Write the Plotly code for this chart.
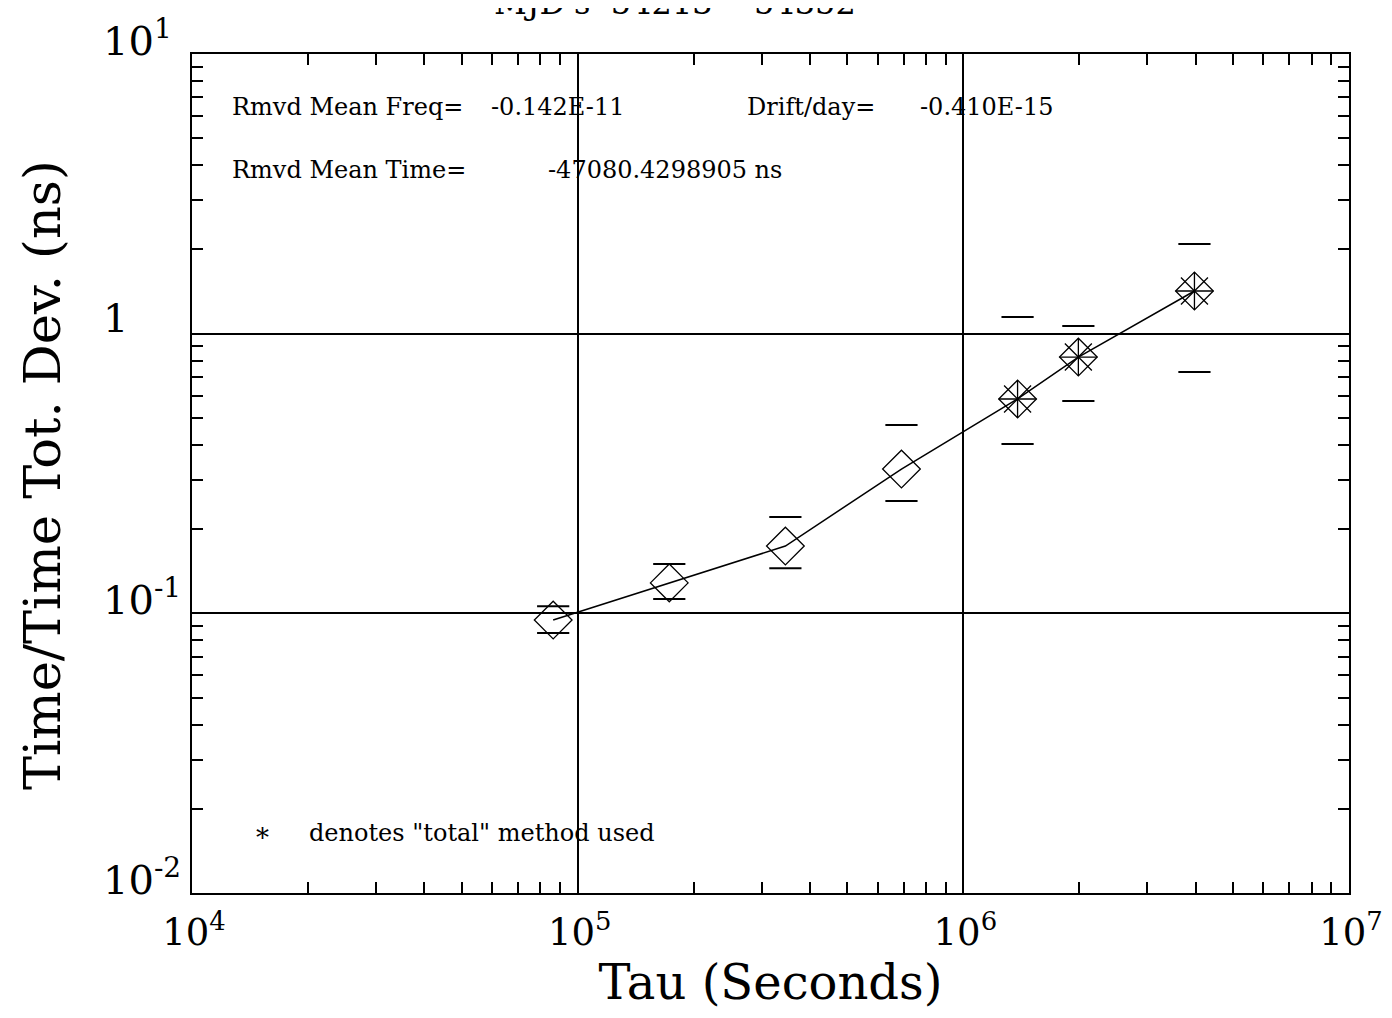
import math
import plotly.graph_objects as go

# ---- data ----
tau = [86400, 172800, 345600, 691200, 1382400, 1987200, 3974400]
tdev = [0.0946, 0.1285, 0.174, 0.328, 0.584, 0.825, 1.421]
tdev_hi = [0.106, 0.150, 0.221, 0.471, 1.148, 1.065, 2.094]
tdev_lo = [0.0851, 0.1125, 0.145, 0.252, 0.403, 0.574, 0.729]
total_used = [False, False, False, False, True, True, True]

x_tickvals = [1e4, 1e5, 1e6, 1e7]
x_ticktext = ["10<sup>4</sup>", "10<sup>5</sup>", "10<sup>6</sup>", "10<sup>7</sup>"]
y_tickvals = [10, 1, 0.1, 0.01]
y_ticktext = ["10<sup>1</sup>", "1", "10<sup>-1</sup>", "10<sup>-2</sup>"]
x_decades = [4, 5, 6]
y_decades = [-2, -1, 0]
minor_mult = [2, 3, 4, 5, 6, 7, 8, 9]

title_text = "MJD's  54213 -  54352"
x_title = "Tau (Seconds)"
y_title = "Time/Time Tot. Dev. (ns)"
info_line1 = ["Rmvd Mean Freq=", "-0.142E-11", "Drift/day=", "-0.410E-15"]
info_line2 = ["Rmvd Mean Time=", "-47080.4298905 ns"]
note_text = 'denotes "total" method used'

# ---- layout geometry (pixels, in reference-image coordinates) ----
OFF = 8  # page body margin
W, H = 1392 - 2 * OFF, 1018 - 2 * OFF
L, R, T, B = 192 - OFF, 1349 - OFF, 54 - OFF, 893 - OFF
PW, PH = R - L, B - T


def px_x(px):
    return (px - OFF - L) / PW


def px_y(py):
    return 1 - (py - OFF - T) / PH


FONT = "DejaVu Serif"
BLACK = "black"

fig = go.Figure()

# connecting line
fig.add_trace(go.Scatter(x=tau, y=tdev, mode="lines",
                         line=dict(color=BLACK, width=1.5), hoverinfo="skip"))

# diamonds for all points
fig.add_trace(go.Scatter(x=tau, y=tdev, mode="markers",
                         marker=dict(symbol="diamond-open", size=29,
                                     color=BLACK, line=dict(color=BLACK, width=1.3))))

# total-method overlay: X and + inside the diamond
tx = [t for t, f in zip(tau, total_used) if f]
ty = [v for v, f in zip(tdev, total_used) if f]
fig.add_trace(go.Scatter(x=tx, y=ty, mode="markers",
                         marker=dict(symbol="x-thin-open", size=27,
                                     color=BLACK, line=dict(color=BLACK, width=1.3))))
fig.add_trace(go.Scatter(x=tx, y=ty, mode="markers",
                         marker=dict(symbol="cross-thin-open", size=27,
                                     color=BLACK, line=dict(color=BLACK, width=1.3))))

# error bar end dashes
fig.add_trace(go.Scatter(x=tau + tau, y=tdev_hi + tdev_lo, mode="markers",
                         marker=dict(symbol="line-ew-open", size=23,
                                     color=BLACK, line=dict(color=BLACK, width=2))))


def axis_common(decades):
    return dict(
        type="log",
        showline=True, linecolor=BLACK, linewidth=2, mirror="allticks",
        showgrid=True, gridcolor=BLACK, gridwidth=2,
        ticks="inside", ticklen=11, tickwidth=2, tickcolor=BLACK,
        minor=dict(ticks="inside", ticklen=11, tickwidth=2, tickcolor=BLACK,
                   showgrid=False,
                   tickvals=[m * 10 ** e for e in decades for m in minor_mult]),
        zeroline=False,
    )


fig.update_xaxes(
    **axis_common(x_decades),
    range=[4, 7],
    tickvals=x_tickvals, ticktext=x_ticktext,
    tickfont=dict(family=FONT, size=37, color=BLACK),
    ticklabelstandoff=6, ticklabelshift=2,
    ticklabeloverflow="allow",
    title=dict(text=x_title, font=dict(family=FONT, size=48, color=BLACK),
               standoff=8),
)
fig.update_yaxes(
    **axis_common(y_decades),
    range=[-2, 1],
    tickvals=y_tickvals, ticktext=[""] * len(y_tickvals),
)

ann = []
# y tick labels (left aligned as in the reference)
for v, t in zip(y_tickvals, y_ticktext):
    ann.append(dict(xref="paper", yref="y", x=px_x(101), y=math.log10(v),
                    xanchor="left", yanchor="middle", yshift=16, showarrow=False,
                    text=t, font=dict(family=FONT, size=40, color=BLACK)))

# y axis title
ann.append(dict(xref="paper", yref="paper", x=px_x(42), y=px_y(475),
                xanchor="center", yanchor="middle", textangle=-90,
                showarrow=False, text=y_title,
                font=dict(family=FONT, size=51, color=BLACK)))

info_font = dict(family=FONT, size=24, color=BLACK)
for txt, px in zip(info_line1, [230, 489, 745, 918]):
    ann.append(dict(xref="paper", yref="paper", x=px_x(px), y=px_y(107),
                    xanchor="left", yanchor="middle", showarrow=False,
                    text=txt, font=info_font))
for txt, px in zip(info_line2, [230, 546]):
    ann.append(dict(xref="paper", yref="paper", x=px_x(px), y=px_y(170),
                    xanchor="left", yanchor="middle", showarrow=False,
                    text=txt, font=info_font))
ann.append(dict(xref="paper", yref="paper", x=px_x(262), y=px_y(838),
                xanchor="center", yanchor="middle", showarrow=False,
                text="*", font=dict(family=FONT, size=26, color=BLACK)))
ann.append(dict(xref="paper", yref="paper", x=px_x(307), y=px_y(833),
                xanchor="left", yanchor="middle", showarrow=False,
                text=note_text, font=info_font))
ann.append(dict(xref="paper", yref="paper", x=px_x(675), y=px_y(24),
                xanchor="center", yanchor="bottom", showarrow=False,
                text=title_text, font=dict(family=FONT, size=32, color=BLACK)))

fig.update_layout(
    width=W, height=H,
    margin=dict(l=L, r=W - R, t=T, b=H - B, autoexpand=False),
    paper_bgcolor="white", plot_bgcolor="white",
    showlegend=False,
    annotations=ann,
)

fig.write_html("out.html")
